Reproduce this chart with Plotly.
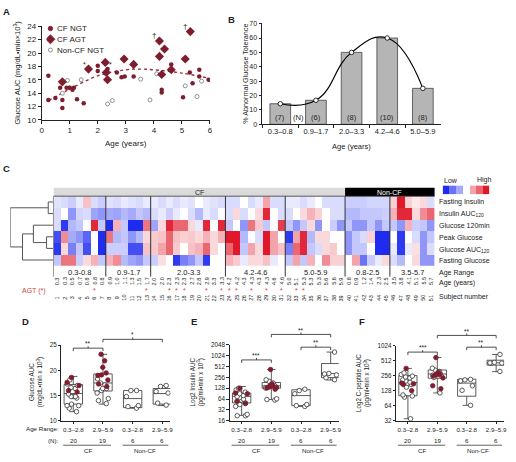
import plotly.graph_objects as go

W, H = 516, 462
def X(p): return p / W
def Y(p): return 1 - p / H

FONT = "Liberation Sans, Arial, Helvetica, sans-serif"
MAROON = "#7d1d2e"
INK = "#222222"
RED_TXT = "#d2453c"

# ---------------- Panel A data ----------------
a_ngt_age = [0.24, 0.24, 0.49, 0.66, 0.74, 0.74, 0.89, 1.00, 1.10, 1.15, 1.26, 1.50, 2.00, 2.00, 2.35, 2.68,
             2.85, 2.96, 3.28, 4.28, 4.28, 4.62, 5.04, 5.28, 5.38, 5.62, 5.62, 5.95]
a_ngt_auc = [16.6, 13.0, 13.3, 14.8, 13.0, 11.8, 14.8, 14.8, 14.5, 14.8, 13.1, 12.5, 18.1, 17.3, 17.6, 17.1,
             16.4, 16.5, 16.5, 14.5, 14.1, 18.3, 13.4, 17.1, 15.5, 16.5, 17.5, 16.0]
a_agt_age = [0.74, 1.67, 2.27, 2.30, 2.35, 2.94, 3.28, 4.20, 4.20, 4.38, 4.28, 4.62, 5.12, 5.30]
a_agt_auc = [15.7, 17.6, 18.6, 17.1, 16.0, 19.1, 18.3, 21.8, 19.5, 20.6, 16.8, 17.5, 19.1, 23.2]
a_non_age = [0.74, 0.92, 1.00, 1.41, 2.35, 2.52, 3.53, 3.86, 4.10, 5.12, 5.54, 5.70]
a_non_auc = [14.0, 15.9, 14.8, 16.0, 12.4, 12.9, 16.1, 13.0, 16.9, 15.1, 13.5, 15.8]
a_fit_age = [0.25, 1.0, 2.0, 3.0, 3.5, 4.0, 5.0, 5.9]
a_fit_auc = [12.9, 14.6, 16.6, 17.5, 17.6, 17.5, 17.0, 16.3]
a_legend = ["CF NGT", "CF AGT", "Non-CF NGT"]

# ---------------- Panel B data ----------------
b_cats = ["0.3–0.8", "0.9–1.7", "2.0–3.3", "4.2–4.6", "5.0–5.9"]
b_pct = [14.3, 16.7, 50.0, 60.0, 25.0]
b_n = ["(7)", "(6)", "(8)", "(10)", "(8)"]

# ---------------- Panel C data ----------------
c_rows = ["Fasting Insulin", "Insulin AUC<sub>120</sub>", "Glucose 120min", "Peak Glucose",
          "Glucose AUC<sub>120</sub>", "Fasting Glucose"]
c_groups = ["0.3-0.8", "0.9-1.7", "2.0-3.3", "4.2-4.6", "5.0-5.9", "0.8-2.5", "3.5-5.7"]
c_group_sizes = [7, 6, 10, 8, 8, 6, 6]
c_cf_cols = 39
c_ages = [0.3, 0.3, 0.5, 0.7, 0.8, 0.8, 0.8,
          0.9, 1.0, 1.1, 1.3, 1.5, 1.7,
          2.0, 2.0, 2.3, 2.3, 2.3, 2.7, 2.8, 2.9, 3.3, 3.3,
          4.2, 4.2, 4.3, 4.3, 4.3, 4.3, 4.6, 4.6,
          5.0, 5.1, 5.3, 5.3, 5.3, 5.6, 5.6, 5.9,
          0.8, 0.9, 1.2, 1.4, 2.3, 2.5,
          3.5, 3.8, 4.1, 5.1, 5.5, 5.7]
c_agt_cols = [5, 12, 15, 16, 17, 20, 22, 23, 24, 26, 28, 30, 32, 33]
c_subject = [str(i) for i in range(1, 52)]

z_fasting_insulin = [-0.4, -0.5, -0.7, -0.3, 0.8, -0.5, -0.7, -0.4, -0.5, -0.3, -0.4, -0.5, -0.3,
                     -0.3, -0.5, -0.3, -0.5, -0.3, -0.4, 0.0, -0.3, -0.4, -0.5,
                     -0.5, -0.5, 0.0, -0.5, -0.3, 1.2, -0.5, -0.5,
                     -0.3, -0.3, -0.5, -0.3, 0.0, -0.5, -0.5, -0.5,
                     -0.7, -0.7, -0.7, -0.6, -0.6, -0.6,
                     0.6, 3.0, 0.6, 0.3, 0.5, -0.5]
z_insulin_auc = [-0.5, 0.0, -1.5, -0.6, -0.5, -1.3, -1.5, -1.2, -1.3, -1.0, -1.2, -0.8, -1.0,
                 -0.5, -0.3, -0.7, -0.3, 0.0, -0.5, -1.0, -0.3, -0.5, 0.0,
                 -0.5, 0.5, -0.5, 0.0, 0.5, 2.8, 0.0, -0.5,
                 -0.5, 0.0, 0.5, 1.0, 0.6, 0.0, -0.5, -0.5,
                 -1.0, -1.0, -0.8, -0.8, -0.8, -0.7,
                 1.0, 2.8, 2.8, 0.5, 1.5, 2.0]
z_glucose_120 = [-0.5, -2.8, -1.0, -0.8, 0.0, 2.8, -0.8, -3.0, 1.0, -0.8, -3.0, -3.0, 1.8,
                 -1.3, 0.5, 2.8, 2.0, 2.0, 0.5, -0.3, 2.8, 0.0, 2.8,
                 -0.8, 0.0, -1.5, 1.8, 0.7, -0.8, 0.0, 2.5,
                 -0.8, -1.5, -0.8, 0.5, -1.5, 0.0, -0.7, -1.5,
                 -0.8, -1.5, -1.5, -0.8, -1.5, -0.8,
                 -0.8, -1.5, 1.0, -0.7, -0.8, -1.5]
z_peak_glucose = [-2.5, 1.5, -1.2, -1.5, -2.2, 0.0, -3.0, 1.8, -1.0, -0.8, -1.5, -1.0, 0.5,
                  0.7, 0.8, 2.0, 0.8, 0.6, 0.7, 0.5, 1.0, 0.5, 1.0,
                  3.0, 3.0, -1.0, 0.0, -0.5, 3.0, 1.2, 0.0,
                  -2.8, 1.2, 2.8, -1.0, 0.5, 0.5, 0.0, 0.0,
                  -1.5, -0.8, -0.5, 0.6, -3.0, -3.0,
                  0.0, -2.8, 0.0, -0.5, -1.5, -0.8]
z_glucose_auc = [-2.8, 0.5, -1.8, -0.8, -2.5, 0.0, -3.0, -0.7, -0.7, -0.7, -2.5, -2.5, 0.8,
                 0.7, 1.2, 2.0, 0.7, 0.0, 0.8, 1.0, 2.0, 0.5, 0.0,
                 2.0, 3.0, -0.8, 1.2, 0.5, 3.0, 1.2, 0.8,
                 -1.8, 2.0, 2.8, -0.8, -0.5, 0.5, 0.7, 0.0,
                 -1.5, -0.8, -0.8, 0.0, -3.0, -3.0,
                 -0.3, -2.8, -0.3, 0.4, -1.5, -0.5]
z_fasting_glucose = [-0.8, 1.8, 1.8, -0.7, 0.5, 1.0, -0.8, 1.0, 1.5, -1.0, -1.3, -1.5, -0.8,
                     -0.7, 0.4, 0.0, -2.8, -1.8, -1.5, -0.8, -2.8, 0.0, 0.0,
                     1.0, 0.7, -0.3, 0.5, 0.5, 0.8, -0.3, 0.0,
                     -0.8, 1.2, -0.8, 1.0, 0.0, 1.5, 0.6, 0.6,
                     0.0, 1.2, -2.0, -0.7, -0.3, 0.5,
                     -0.5, -1.0, 0.0, 0.5, -1.5, -1.5]
c_z = [z_fasting_insulin, z_insulin_auc, z_glucose_120, z_peak_glucose, z_glucose_auc, z_fasting_glucose]
# dendrogram merges: (child a, child b, height); children < 6 are rows, >= 6 are earlier merges
c_merges = [(0, 1, 5.0), (3, 4, 6.7), (7, 2, 20.0), (8, 5, 31.0), (6, 9, 43.4)]
c_legend_vals = [-3, -2, -1.2, None, 1.2, 2, 3]

# ---------------- Panels D/E/F data ----------------
dfe_cats = ["0.3–2.8", "2.9–5.9", "0.3–2.8", "2.9–5.9"]
dfe_n = ["20", "19", "6", "6"]

d_q1 = [13.3, 15.9, 12.6, 13.3]; d_med = [15.4, 17.5, 14.4, 15.4]; d_q3 = [17.2, 19.3, 16.0, 16.4]
d_lo = [11.8, 13.3, 12.5, 13.0]; d_hi = [18.8, 23.2, 16.0, 17.0]
d_ngt = [[18.1, 17.3, 17.0, 16.6, 16.4, 15.3, 14.8, 14.8, 14.8, 14.5, 13.3, 13.0, 13.0, 12.5, 11.8],
         [18.3, 17.5, 17.1, 16.4, 16.4, 16.0, 15.5, 14.4, 14.0, 13.4],
         [16.0, 16.0, 14.8, 13.0, 12.5, 12.8],
         [17.0, 16.8, 15.8, 15.5, 13.5, 13.1]]
d_agt = [[18.6, 17.6, 17.0, 16.0, 15.7],
         [23.2, 21.9, 20.6, 19.5, 19.1, 19.0, 18.1, 17.3, 16.8], [], []]

e_q1 = [50, 128, 42, 253]; e_med = [76, 149, 80, 330]; e_q3 = [94, 185, 116, 623]
e_lo = [22.6, 62, 40, 217]; e_hi = [143, 426, 120, 1295]
e_ngt = [[128, 115, 100, 90, 80, 75, 70, 64, 60, 50, 45, 40, 24, 22, 22],
         [220, 200, 180, 160, 150, 140, 130, 65, 62, 60],
         [120, 110, 90, 45, 42, 40],
         [1295, 330, 320, 300, 250, 220]]
e_agt = [[128, 94, 90, 48, 56],
         [426, 170, 150, 145, 140, 135, 130, 160, 120], [], []]

f_q1 = [101, 227, 99, 415]; f_med = [186, 276, 181, 461]; f_q3 = [256, 332, 217, 520]
f_lo = [35, 115, 65, 307]; f_hi = [357, 588, 217, 680]
f_ngt = [[290, 270, 250, 240, 230, 210, 200, 190, 180, 170, 150, 105, 100, 95, 35],
         [360, 330, 310, 290, 280, 270, 260, 250, 235, 115],
         [215, 210, 200, 160, 130, 65],
         [680, 470, 460, 455, 450, 310]]
f_agt = [[357, 181, 175, 170, 128],
         [588, 300, 280, 270, 265, 250, 230, 160, 140], [], []]

# ===================================================
fig = go.Figure()
ann = []
shapes = []

def T(x, y, text, size=7, xref="paper", yref="paper", xa="center", ya="middle", color=INK,
      angle=0, **kw):
    d = dict(x=x, y=y, text=text, xref=xref, yref=yref, xanchor=xa, yanchor=ya, showarrow=False,
             font=dict(size=size, color=color, family=FONT), textangle=angle, borderpad=0)
    d.update(kw)
    ann.append(d)

def L(x0, y0, x1, y1, xref="paper", yref="paper", color=INK, width=0.8):
    shapes.append(dict(type="line", x0=x0, y0=y0, x1=x1, y1=y1, xref=xref, yref=yref,
                       line=dict(color=color, width=width)))

def axis(domain, **kw):
    d = dict(domain=domain, showgrid=False, zeroline=False, showline=True, linecolor=INK,
             linewidth=0.8, ticks="outside", ticklen=3, tickwidth=0.8, tickcolor=INK,
             tickfont=dict(size=7, family=FONT, color=INK))
    d.update(kw)
    return d

layout = dict(width=W, height=H, margin=dict(l=0, r=0, t=0, b=0), paper_bgcolor="white",
              plot_bgcolor="white", showlegend=False, boxmode="overlay",
              font=dict(family=FONT, size=7, color=INK))

# ---------------- Panel A ----------------
layout["xaxis"] = axis([X(40), X(210)], range=[0, 6], dtick=1, anchor="y",
                       tickfont=dict(size=8, family=FONT, color=INK))
layout["yaxis"] = axis([Y(118.3), Y(22.7)], range=[10, 24], dtick=2, anchor="x",
                       tickfont=dict(size=8, family=FONT, color=INK))
fig.add_trace(go.Scatter(x=a_fit_age, y=a_fit_auc, mode="lines", line=dict(color="#a02838", width=1.4, dash="dot", shape="spline"),
                         xaxis="x", yaxis="y"))
fig.add_trace(go.Scatter(x=a_non_age, y=a_non_auc, mode="markers",
                         marker=dict(symbol="circle", size=4, color="white", line=dict(color="#777", width=0.8)),
                         xaxis="x", yaxis="y"))
fig.add_trace(go.Scatter(x=a_ngt_age, y=a_ngt_auc, mode="markers",
                         marker=dict(symbol="circle", size=4.5, color=MAROON), xaxis="x", yaxis="y"))
fig.add_trace(go.Scatter(x=a_agt_age, y=a_agt_auc, mode="markers",
                         marker=dict(symbol="diamond", size=7, color=MAROON), xaxis="x", yaxis="y"))
T(a_agt_age[7], a_agt_auc[7], "†", size=8, xref="x", yref="y", xshift=-5, yshift=5)
T(a_agt_age[13], a_agt_auc[13], "†", size=8, xref="x", yref="y", xshift=-5, yshift=5)
T(a_agt_age[1], a_agt_auc[1], "*", size=7, xref="x", yref="y", xshift=-4, yshift=5)
T(a_ngt_age[14], a_ngt_auc[14], "*", size=7, xref="x", yref="y", xshift=3, yshift=5)
# legend (own hidden axis)
layout["xaxis9"] = dict(domain=[X(45), X(110)], range=[0, 1], visible=False, anchor="y9")
layout["yaxis9"] = dict(domain=[Y(52.5), Y(19.5)], range=[2.5, -0.5], visible=False, anchor="x9")
leg_sym = ["circle", "diamond", "circle"]
leg_size = [4.5, 7, 4]
leg_col = [MAROON, MAROON, "white"]
leg_line = [MAROON, MAROON, "#777"]
for i, name in enumerate(a_legend):
    fig.add_trace(go.Scatter(x=[0.06], y=[i], mode="markers", xaxis="x9", yaxis="y9",
                             marker=dict(symbol=leg_sym[i], size=leg_size[i], color=leg_col[i],
                                         line=dict(color=leg_line[i], width=0.8))))
    T(0.14, i, name, size=8, xref="x9", yref="y9", xa="left")
T(X(15), Y(70), "Glucose AUC (mg/dL•min×10<sup>3</sup>)", size=7.5, angle=-90)
T(X(125), Y(142), "Age (years)", size=8)
T(X(5), Y(8), "<b>A</b>", size=9.5)

# ---------------- Panel B ----------------
layout["xaxis2"] = axis([X(263), X(443)], type="category", tickson="boundaries", anchor="y2",
                        range=[-0.5, 4.5], tickfont=dict(size=7.5, family=FONT, color=INK))
layout["yaxis2"] = axis([Y(122.7), Y(20)], range=[0, 70], dtick=10, anchor="x2",
                        tickfont=dict(size=7, family=FONT, color=INK))
fig.add_trace(go.Bar(x=b_cats, y=b_pct, width=0.58, marker=dict(color="#b5b5b5", line=dict(color="#444", width=0.8)),
                     xaxis="x2", yaxis="y2"))
fig.add_trace(go.Scatter(x=b_cats, y=b_pct, mode="lines+markers", xaxis="x2", yaxis="y2",
                         line=dict(color="black", width=1.2, shape="spline", smoothing=1.3),
                         marker=dict(color="white", size=4.5, line=dict(color="black", width=0.8))))
for i, lab in enumerate(b_n):
    T(i, Y(116), lab, size=7.5, xref="x2")
T(0.5, Y(116), "(N)", size=7.5, xref="x2")
T(X(245.5), Y(71), "% Abnormal Glucose Tolerance", size=7.2, angle=-90)
T(X(353), Y(145), "Age (years)", size=7.5)
T(X(232), Y(16), "<b>B</b>", size=9.5)

# ---------------- Panel C ----------------
ncol = len(c_ages)
layout["xaxis3"] = dict(domain=[X(52), X(437)], range=[-0.5, ncol - 0.5], visible=False, anchor="y3")
layout["yaxis3"] = dict(domain=[Y(267), Y(196)], range=[5.5, -0.5], visible=False, anchor="x3")
cs = [[0, "#1f2cf0"], [0.5, "#ffffff"], [1, "#e0192a"]]
fig.add_trace(go.Heatmap(z=c_z, x=list(range(ncol)), y=list(range(6)), colorscale=cs, zmin=-3, zmax=3,
                         showscale=False, xaxis="x3", yaxis="y3"))
# bands
shapes.append(dict(type="rect", xref="x3", yref="paper", x0=-0.5, x1=c_cf_cols - 0.5, y0=Y(196), y1=Y(187.5),
                   fillcolor="#dadada", line=dict(width=0)))
shapes.append(dict(type="rect", xref="x3", yref="paper", x0=c_cf_cols - 0.5, x1=ncol - 0.5, y0=Y(196), y1=Y(187.5),
                   fillcolor="black", line=dict(width=0)))
T((c_cf_cols - 1) / 2, Y(191.8), "CF", size=7, xref="x3")
T((c_cf_cols + ncol - 1) / 2, Y(191.8), "Non-CF", size=7, xref="x3", color="white")
L(-0.5, Y(196), ncol - 0.5, Y(196), xref="x3", color="#333", width=0.8)
# group separators and labels
start = 0
L(-0.5, Y(196), -0.5, Y(278), xref="x3", color="#333", width=1)
for g, size in zip(c_groups, c_group_sizes):
    end = start + size
    if end < ncol:
        L(end - 0.5, Y(196), end - 0.5, Y(278), xref="x3", color="#333", width=1)
    T((start + end - 1) / 2, Y(274), g, size=7.5, xref="x3")
    start = end
for i, a in enumerate(c_ages):
    T(i, Y(282.5), f"{a:.1f}", size=5.5, xref="x3", angle=-90)
    T(i, Y(300), c_subject[i], size=5.5, xref="x3", angle=-90)
for i in c_agt_cols:
    T(i, Y(292.5), "*", size=7, xref="x3", color=RED_TXT)
T(X(32), Y(292.5), "AGT (*)", size=7, color=RED_TXT)
row_y = [202, 214, 226, 238, 250.5, 262]
for name, yy in zip(c_rows, row_y):
    T(X(440), Y(yy), name, size=7, xa="left")
T(X(440), Y(274), "Age Range", size=7, xa="left")
T(X(440), Y(285), "Age (years)", size=7, xa="left")
T(X(440), Y(299), "Subject number", size=7, xa="left")
# dendrogram
layout["xaxis7"] = dict(domain=[X(8.3), X(51.7)], range=[43.4, 0], visible=False, anchor="y3")
pos = {i: float(i) for i in range(6)}
hgt = {i: 0.0 for i in range(6)}
for k, (a, b, h) in enumerate(c_merges):
    node = 6 + k
    xs = [hgt[a], h, h, hgt[b]]
    ys = [pos[a], pos[a], pos[b], pos[b]]
    fig.add_trace(go.Scatter(x=xs, y=ys, mode="lines", line=dict(color="#555", width=1),
                             xaxis="x7", yaxis="y3"))
    pos[node] = (pos[a] + pos[b]) / 2
    hgt[node] = h
# color legend
layout["xaxis8"] = dict(domain=[X(445), X(492)], range=[-0.5, 6.5], visible=False, anchor="y8")
layout["yaxis8"] = dict(domain=[Y(194), Y(185)], range=[-0.5, 0.5], visible=False, anchor="x8")
fig.add_trace(go.Heatmap(z=[c_legend_vals], x=list(range(7)), y=[0], colorscale=cs, zmin=-3, zmax=3,
                         showscale=False, xaxis="x8", yaxis="y8"))
T(X(445), Y(179.5), "Low", size=7, xa="left")
T(X(496), Y(179.5), "High", size=7, xa="right")
T(X(5), Y(168), "<b>C</b>", size=9.5)

# ---------------- Panels D, E, F ----------------
def box_panel(n, xdom, ydom, yk, q1, med, q3, lo, hi, ngt, agt):
    xa, ya = f"x{n}", f"y{n}"
    layout[f"xaxis{n}"] = axis(xdom, range=[-0.4, 3.27], tickvals=[0, 1, 2, 3], ticktext=dfe_cats,
                               anchor=ya, ticklen=2.5, tickfont=dict(size=6.2, family=FONT, color=INK))
    layout[f"yaxis{n}"] = axis(ydom, anchor=xa, ticklen=2.5, tickfont=dict(size=6.3, family=FONT, color=INK), **yk)
    for i in range(4):
        fig.add_trace(go.Box(x=[i], q1=[q1[i]], median=[med[i]], q3=[q3[i]], lowerfence=[lo[i]],
                             upperfence=[hi[i]], width=0.62, whiskerwidth=0.45, fillcolor="white",
                             line=dict(color="#333", width=0.8), boxpoints=False, xaxis=xa, yaxis=ya))
    for i in range(4):
        for vals, fill, lc in ((ngt[i], "white", "#333"), (agt[i], MAROON, MAROON)):
            if not vals:
                continue
            fig.add_trace(go.Box(x=[i] * len(vals), y=vals, boxpoints="all", jitter=0.8, pointpos=0,
                                 width=0.62, fillcolor="rgba(0,0,0,0)",
                                 line=dict(color="rgba(0,0,0,0)", width=0),
                                 marker=dict(symbol="circle", size=4.5, color=fill, line=dict(color=lc, width=0.8)),
                                 xaxis=xa, yaxis=ya))

def brackets(n, items):
    for a, b, ypx, lab in items:
        xr = f"x{n}"
        L(a, Y(ypx), b, Y(ypx), xref=xr)
        L(a, Y(ypx), a, Y(ypx + 3), xref=xr)
        L(b, Y(ypx), b, Y(ypx + 3), xref=xr)
        L((a + b) / 2, Y(ypx), (a + b) / 2, Y(ypx - 2), xref=xr)
        T((a + b) / 2, Y(ypx - 4.5), lab, size=6.5, xref=xr)

def bottom(n):
    xr = f"x{n}"
    for i, v in enumerate(dfe_n):
        T(i, Y(445), v, size=6.2, xref=xr)
    L(-0.34, Y(450), 1.27, Y(450), xref=xr, width=0.7)
    L(1.66, Y(450), 3.2, Y(450), xref=xr, width=0.7)
    T(0.49, Y(455.5), "CF", size=6.2, xref=xr)
    T(2.4, Y(455.5), "Non-CF", size=6.2, xref=xr)

box_panel(4, [X(60), X(170)], [Y(425), Y(348)], dict(range=[10, 25], dtick=5),
          d_q1, d_med, d_q3, d_lo, d_hi, d_ngt, d_agt)
box_panel(5, [X(230), X(340)], [Y(425), Y(347.7)],
          dict(type="log", range=[1.2041, 3.3113], tickvals=[16, 32, 64, 128, 256, 512, 1024, 2048]),
          e_q1, e_med, e_q3, e_lo, e_hi, e_ngt, e_agt)
box_panel(6, [X(398), X(507)], [Y(425), Y(348.3)],
          dict(type="log", range=[1.5051, 3.0103], tickvals=[32, 64, 128, 256, 512, 1024]),
          f_q1, f_med, f_q3, f_lo, f_hi, f_ngt, f_agt)
brackets(4, [(0, 1, 351, "**"), (1, 3, 342, "*")])
brackets(5, [(0, 1, 363, "***"), (1, 3, 337, "**"), (2, 3, 350, "**")])
brackets(6, [(0, 1, 355, "***"), (1, 3, 338, "**"), (2, 3, 350, "**")])
for n in (4, 5, 6):
    bottom(n)
T(X(59), Y(432.5), "Age Range:", size=6.2, xa="right")
T(X(59), Y(445), "(N):", size=6.2, xa="right")
T(X(35), Y(386), "Glucose AUC<br>(mg/dL•min x 10<sup>3</sup>)", size=6.3, angle=-90)
T(X(197), Y(386), "Log2 Insulin AUC<br>(pg/ml•min x 10<sup>3</sup>)", size=6.3, angle=-90)
T(X(365), Y(386), "Log2 C-peptide AUC<br>(pg/ml•min x 10<sup>3</sup>)", size=6.3, angle=-90)
T(X(24), Y(324), "<b>D</b>", size=9.5)
T(X(194), Y(324), "<b>E</b>", size=9.5)
T(X(364), Y(324), "<b>F</b>", size=9.5)

layout["annotations"] = ann
layout["shapes"] = shapes
fig.update_layout(**layout)
fig.write_html("out.html", config={"displayModeBar": False},
               post_script="document.body.style.margin='0px';document.body.style.overflow='hidden';")
